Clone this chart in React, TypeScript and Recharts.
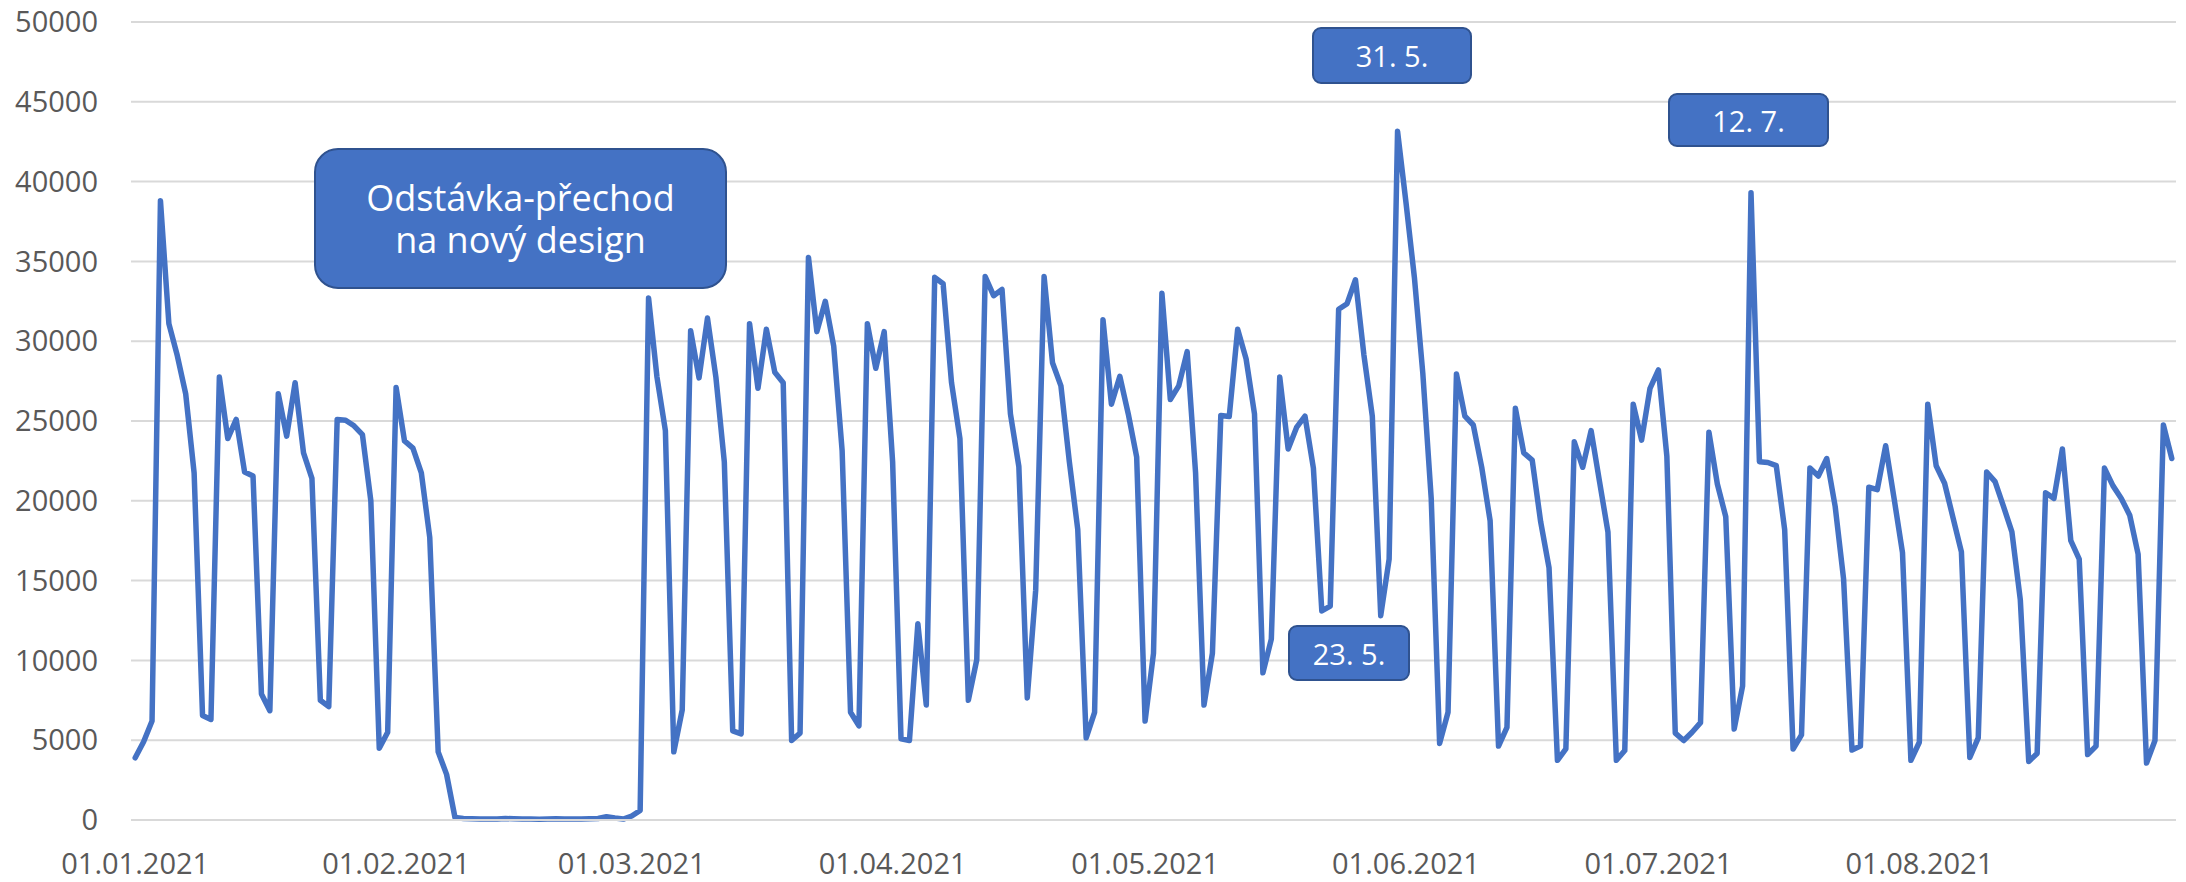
import { LineChart, Line, XAxis, YAxis, CartesianGrid } from 'recharts';

// daily visits, 01.01.2021 – 31.08.2021 (index 0 = 1 Jan)
const visits = [
	3900, 4900, 6200, 38800, 31100, 29100, 26700, 21750, 6550, 6300,
	27750, 23900, 25100, 21800, 21550, 7900, 6850, 26700, 24050, 27400,
	23000, 21400, 7500, 7100, 25100, 25050, 24700, 24150, 20000, 4500,
	5500, 27100, 23750, 23300, 21750, 17700, 4270, 2860, 150, 100,
	80, 60, 70, 60, 90, 80, 70, 60, 50, 60,
	80, 70, 60, 70, 80, 90, 200, 120, 60, 250,
	600, 32700, 27750, 24400, 4270, 6900, 30650, 27700, 31450, 27750,
	22450, 5580, 5400, 31100, 27050, 30750, 28050, 27400, 4980, 5440,
	35250, 30600, 32500, 29700, 23150, 6750, 5900, 31100, 28300, 30600,
	22450, 5080, 4980, 12300, 7200, 34000, 33600, 27400, 23900, 7500,
	10050, 34050, 32850, 33250, 25450, 22150, 7650, 14400, 34050, 28650,
	27200, 22450, 18200, 5150, 6750, 31350, 26050, 27800, 25450, 22750,
	6200, 10450, 33000, 26350, 27200, 29350, 21750, 7200, 10450, 25350,
	25280, 30750, 28900, 25450, 9220, 11330, 27750, 23250, 24600, 25300,
	22050, 13100, 13400, 32000, 32350, 33850, 29150, 25300, 12800, 16350,
	43150, 38700, 34000, 28000, 20150, 4800, 6750, 27950, 25300, 24750,
	22100, 18750, 4630, 5800, 25800, 23000, 22550, 18700, 15800, 3740,
	4450, 23700, 22100, 24400, 21200, 18050, 3740, 4350, 26050, 23800,
	27050, 28200, 22800, 5440, 4980, 5500, 6100, 24300, 21050, 19000,
	5700, 8400, 39300, 22450, 22400, 22200, 18200, 4450, 5330, 22050,
	21550, 22650, 19650, 15100, 4380, 4630, 20850, 20700, 23450, 20150,
	16750, 3740, 4870, 26050, 22200, 21100, 18950, 16800, 3920, 5150,
	21800, 21200, 19650, 18050, 13800, 3670, 4170, 20500, 20150, 23250,
	17500, 16350, 4100, 4630, 22050, 20950, 20150, 19100, 16650, 3570,
	4980, 24750, 22650,
];

const monthStarts = [0, 31, 59, 90, 120, 151, 181, 212];
const monthLabels = ['01.01.2021', '01.02.2021', '01.03.2021', '01.04.2021', '01.05.2021', '01.06.2021', '01.07.2021', '01.08.2021'];
const yTicks = [0, 5000, 10000, 15000, 20000, 25000, 30000, 35000, 40000, 45000, 50000];

const data = visits.map((v, i) => ({ day: i, v }));

const font = '"Open Sans", sans-serif';
const blue = '#4472C4';

const boxStyle = {
	position: 'absolute' as const,
	background: blue,
	border: '2px solid #2F528F',
	boxSizing: 'border-box' as const,
	color: '#fff',
	fontFamily: font,
	display: 'flex',
	alignItems: 'center',
	justifyContent: 'center',
	textAlign: 'center' as const,
};

export default function App() {
	return (
		<div style={{ position: 'absolute', left: 0, top: 0, width: 2186, height: 882, background: '#fff' }}>
			<LineChart width={2186} height={882} data={data} margin={{ top: 22, right: 10, bottom: 0, left: 0 }}>
				<CartesianGrid vertical={false} stroke="#D9D9D9" strokeWidth={2} />
				<XAxis
					dataKey="day"
					type="number"
					domain={[-0.5, 242.5]}
					ticks={monthStarts}
					tickFormatter={(d: number) => monthLabels[monthStarts.indexOf(d)]}
					axisLine={{ stroke: '#D9D9D9', strokeWidth: 2 }}
					tickLine={false}
					tickSize={0}
					tickMargin={33}
					height={62}
					interval={0}
					tick={{ fontSize: 29, fill: '#595959', fontFamily: font }}
				/>
				<YAxis
					domain={[0, 50000]}
					ticks={yTicks}
					axisLine={false}
					tickLine={false}
					tickSize={0}
					tickMargin={33}
					width={131}
					interval={0}
					tick={{ fontSize: 29, fill: '#595959', fontFamily: font }}
				/>
				<Line
					type="linear"
					dataKey="v"
					stroke={blue}
					strokeWidth={5.5}
					strokeLinejoin="round"
					strokeLinecap="round"
					dot={false}
					isAnimationActive={false}
				/>
			</LineChart>
			<div style={{ ...boxStyle, left: 314, top: 148, width: 413, height: 141, borderRadius: 24, fontSize: 36, lineHeight: '42px' }}>
				Odstávka-přechod
				<br />
				na nový design
			</div>
			<div style={{ ...boxStyle, left: 1312, top: 27, width: 160, height: 57, borderRadius: 9, fontSize: 29 }}>31. 5.</div>
			<div style={{ ...boxStyle, left: 1668, top: 93, width: 161, height: 54, borderRadius: 9, fontSize: 29 }}>12. 7.</div>
			<div style={{ ...boxStyle, left: 1288, top: 625, width: 122, height: 56, borderRadius: 9, fontSize: 29 }}>23. 5.</div>
		</div>
	);
}
